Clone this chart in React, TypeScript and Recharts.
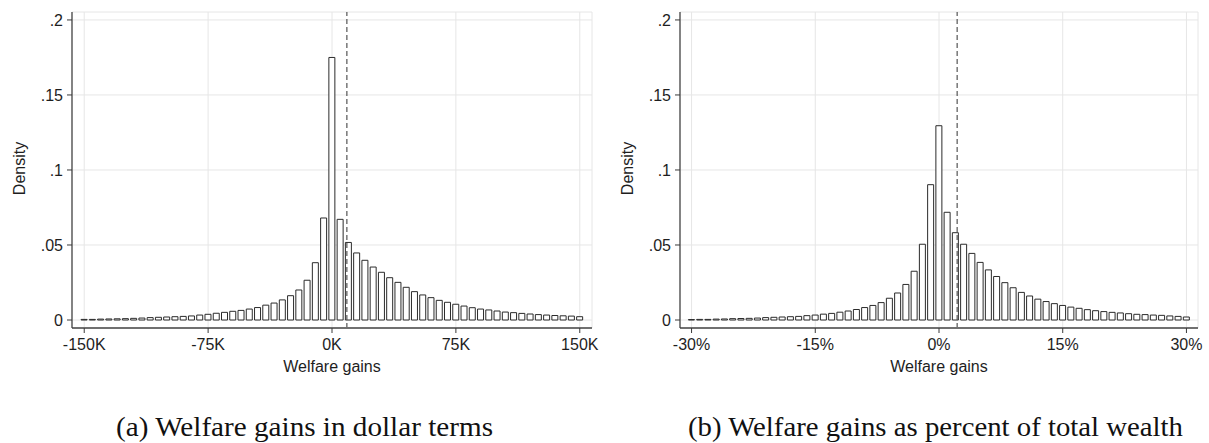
import React from "react";
import {
  BarChart,
  Bar,
  XAxis,
  YAxis,
  CartesianGrid,
  ReferenceLine,
} from "recharts";

// Histogram bins: dollar gains (thousands), bin centres every 5K
const dollarBins = [
  -150, -145, -140, -135, -130, -125, -120, -115, -110, -105, -100, -95, -90,
  -85, -80, -75, -70, -65, -60, -55, -50, -45, -40, -35, -30, -25, -20, -15,
  -10, -5, 0, 5, 10, 15, 20, 25, 30, 35, 40, 45, 50, 55, 60, 65, 70, 75, 80, 85,
  90, 95, 100, 105, 110, 115, 120, 125, 130, 135, 140, 145, 150,
];
const dollarDensity = [
  0.0004, 0.0004, 0.0006, 0.0007, 0.0008, 0.0009, 0.0011, 0.0013, 0.0016,
  0.0018, 0.002, 0.0022, 0.0024, 0.0027, 0.0033, 0.0038, 0.0045, 0.0051,
  0.0058, 0.0064, 0.0073, 0.0083, 0.0099, 0.0113, 0.0134, 0.0162, 0.02, 0.0265,
  0.0382, 0.068, 0.175, 0.0671, 0.0517, 0.0447, 0.0398, 0.0353, 0.0318, 0.0282,
  0.0251, 0.0218, 0.0189, 0.0167, 0.0149, 0.0131, 0.0118, 0.0105, 0.0093,
  0.0082, 0.0073, 0.0067, 0.006, 0.0053, 0.0049, 0.0044, 0.004, 0.0036, 0.0033,
  0.003, 0.0028, 0.0026, 0.0022,
];
const dollarMean = 9;
const dollarTicks = [-150, -75, 0, 75, 150];
const dollarTickLabels = ["-150K", "-75K", "0K", "75K", "150K"];

// Histogram bins: gains as percent of total wealth, bin centres every 1%
const pctBins = [
  -30, -29, -28, -27, -26, -25, -24, -23, -22, -21, -20, -19, -18, -17, -16,
  -15, -14, -13, -12, -11, -10, -9, -8, -7, -6, -5, -4, -3, -2, -1, 0, 1, 2, 3,
  4, 5, 6, 7, 8, 9, 10, 11, 12, 13, 14, 15, 16, 17, 18, 19, 20, 21, 22, 23, 24,
  25, 26, 27, 28, 29, 30,
];
const pctDensity = [
  0.0003, 0.0004, 0.0004, 0.0006, 0.0007, 0.0009, 0.001, 0.0011, 0.0013,
  0.0016, 0.0018, 0.002, 0.0022, 0.0024, 0.0029, 0.0033, 0.0039, 0.0044,
  0.0052, 0.006, 0.007, 0.0083, 0.0097, 0.0116, 0.0145, 0.018, 0.0237, 0.0325,
  0.0505, 0.0902, 0.1295, 0.0718, 0.0582, 0.0505, 0.0444, 0.0384, 0.0334,
  0.029, 0.0249, 0.0215, 0.0184, 0.016, 0.0139, 0.0123, 0.0109, 0.0097, 0.0086,
  0.0078, 0.0069, 0.0062, 0.0056, 0.0051, 0.0047, 0.0042, 0.0038, 0.0036,
  0.0033, 0.0031, 0.0027, 0.0024, 0.002,
];
const pctMean = 2.2;
const pctTicks = [-30, -15, 0, 15, 30];
const pctTickLabels = ["-30%", "-15%", "0%", "15%", "30%"];

const densityTicks = [0, 0.05, 0.1, 0.15, 0.2];
const densityTickLabels = ["0", ".05", ".1", ".15", ".2"];

const SANS = "'Liberation Sans', Arial, sans-serif";
const SERIF = "'Liberation Serif', 'Times New Roman', serif";
const TEXT = "#1e1e1e";
const FS = 16;

const CHART_W = 600;
const CHART_H = 390;

const YTitle = (props: any) => {
  const vb = props.viewBox || {};
  const cx = (vb.x ?? 0) + 19.5;
  const cy = (vb.y ?? 0) + (vb.height ?? 0) / 2 - 1.5;
  return (
    <text
      x={cx}
      y={cy}
      transform={`rotate(-90 ${cx} ${cy})`}
      textAnchor="middle"
      dominantBaseline="central"
      fontFamily={SANS}
      fontSize={FS}
      fill={TEXT}
    >
      Density
    </text>
  );
};

const XTitle = (props: any) => {
  const vb = props.viewBox || {};
  const cx = (vb.x ?? 0) + (vb.width ?? 0) / 2;
  const cy = (vb.y ?? 0) + 38;
  return (
    <text
      x={cx}
      y={cy}
      textAnchor="middle"
      dominantBaseline="central"
      fontFamily={SANS}
      fontSize={FS}
      fill={TEXT}
    >
      Welfare gains
    </text>
  );
};

type PanelProps = {
  bins: number[];
  values: number[];
  domain: [number, number];
  ticks: number[];
  tickLabels: string[];
  mean: number;
  marginRight: number;
};

const Panel = ({
  bins,
  values,
  domain,
  ticks,
  tickLabels,
  mean,
  marginRight,
}: PanelProps) => {
  const data = bins.map((b, i) => ({ bin: b, density: values[i] }));
  return (
    <BarChart
      width={CHART_W}
      height={CHART_H}
      data={data}
      margin={{ top: 12, right: marginRight, bottom: 0, left: 0 }}
      barCategoryGap={0}
    >
      <CartesianGrid stroke="#e6e6e6" strokeWidth={1} />
      <XAxis
        dataKey="bin"
        type="number"
        domain={domain}
        allowDataOverflow
        ticks={ticks}
        interval={0}
        tickFormatter={(v: number) => tickLabels[ticks.indexOf(v)] ?? ""}
        height={CHART_H - 328}
        tickSize={5}
        tickMargin={6}
        axisLine={{ stroke: "#707070", strokeWidth: 2 }}
        tickLine={{ stroke: "#3a3a3a", strokeWidth: 1 }}
        tick={{ fontFamily: SANS, fontSize: FS, fill: TEXT }}
        label={<XTitle />}
      />
      <YAxis
        type="number"
        domain={[-0.00533, 0.2053]}
        allowDataOverflow
        ticks={densityTicks}
        interval={0}
        tickFormatter={(v: number) =>
          densityTickLabels[densityTicks.indexOf(v)] ?? ""
        }
        width={72}
        tickSize={5}
        tickMargin={4}
        axisLine={{ stroke: "#3a3a3a", strokeWidth: 1.2 }}
        tickLine={{ stroke: "#3a3a3a", strokeWidth: 1 }}
        tick={{ fontFamily: SANS, fontSize: FS, fill: TEXT }}
        label={<YTitle />}
      />
      <Bar
        dataKey="density"
        barSize={6}
        fill="#ffffff"
        stroke="#2b2b2b"
        strokeWidth={1}
        isAnimationActive={false}
      />
      <ReferenceLine
        x={mean}
        stroke="#555555"
        strokeWidth={1.2}
        strokeDasharray="5 3"
      />
    </BarChart>
  );
};

export default function App() {
  return (
    <div
      style={{
        position: "absolute",
        left: 0,
        top: 0,
        width: 1209,
        height: 443,
        background: "#ffffff",
        overflow: "hidden",
      }}
    >
      <div style={{ position: "absolute", left: 0, top: 0 }}>
        <Panel
          bins={dollarBins}
          values={dollarDensity}
          domain={[-157.4, 157.4]}
          ticks={dollarTicks}
          tickLabels={dollarTickLabels}
          mean={dollarMean}
          marginRight={8}
        />
      </div>
      <div style={{ position: "absolute", left: 608, top: 0 }}>
        <Panel
          bins={pctBins}
          values={pctDensity}
          domain={[-31.4, 31.4]}
          ticks={pctTicks}
          tickLabels={pctTickLabels}
          mean={pctMean}
          marginRight={10}
        />
      </div>
      <svg
        width={1209}
        height={443}
        style={{ position: "absolute", left: 0, top: 0, pointerEvents: "none" }}
      >
        <text
          x={116}
          y={436}
          fontFamily={SERIF}
          fontSize={27}
          fill="#111"
          textLength={377}
          lengthAdjust="spacingAndGlyphs"
        >
          (a) Welfare gains in dollar terms
        </text>
        <text
          x={688}
          y={436}
          fontFamily={SERIF}
          fontSize={27}
          fill="#111"
          textLength={495}
          lengthAdjust="spacingAndGlyphs"
        >
          (b) Welfare gains as percent of total wealth
        </text>
      </svg>
    </div>
  );
}
